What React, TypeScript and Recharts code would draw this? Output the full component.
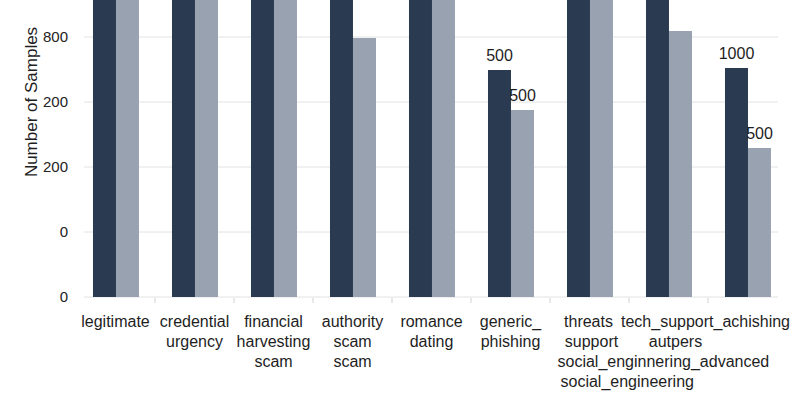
import React from "react";
import { BarChart, Bar, XAxis, YAxis, CartesianGrid, LabelList } from "recharts";

const categories = ["legitimate", "credential", "financial", "authority", "romance", "generic", "threats", "tech_support", "phishing"];
const darkValues = [1300, 1300, 1300, 1300, 1300, 873, 1300, 1300, 881];
const lightValues = [1300, 1300, 1300, 996, 1300, 719, 1300, 1023, 573];
const darkLabels = ["", "", "", "", "", "500", "", "", "1000"];
const lightLabels = ["", "", "", "", "", "500", "", "", "500"];
const tickLines: string[][] = [
  ["legitimate"],
  ["credential", "urgency"],
  ["financial", "harvesting", "scam"],
  ["authority", "scam", "scam"],
  ["romance", "dating"],
  ["generic_", "phishing"],
  ["threats", "support", "social_enginnering_advanced", "social_engineering"],
  ["tech_support_achishing", "autpers"],
  ["", ""],
];
const yTickValues = [0, 250, 500, 750, 1000];
const yTickLabels = ["0", "0", "200", "200", "800"];

const data = categories.map((c, i) => ({
  cat: c,
  dark: darkValues[i],
  light: lightValues[i],
  darkLabel: darkLabels[i],
  lightLabel: lightLabels[i],
}));

const CHART_W = 794;
const CHART_H = 500;
const PLOT_LEFT = 76;
const PLOT_RIGHT = 787;
const BAND = (PLOT_RIGHT - PLOT_LEFT) / categories.length;

// per-line layout tweaks (dx offset, anchor)
const lineLayout: Record<string, { dx: number; anchor: "start" | "middle" }> = {
  "6-0": { dx: -1, anchor: "middle" },
  "6-1": { dx: 2, anchor: "middle" },
  "6-2": { dx: -32, anchor: "start" },
  "6-3": { dx: -29, anchor: "start" },
  "7-0": { dx: 37, anchor: "middle" },
  "7-1": { dx: 7, anchor: "middle" },
};

function XTick(props: any) {
  const { x, y, index } = props;
  const axisY = y - 8;
  const lines = tickLines[index] || [];
  return (
    <g>
      {index > 0 && (
        <line x1={x - BAND / 2} x2={x - BAND / 2} y1={axisY + 1} y2={axisY + 6} stroke="#d0d0d0" strokeWidth={1} />
      )}
      {lines.map((t, li) => {
        const lay = lineLayout[`${index}-${li}`] || { dx: 0, anchor: "middle" };
        return (
          <text key={li} x={x + lay.dx} y={axisY + 30 + li * 20} textAnchor={lay.anchor} fontSize={16} fill="#1e1e1e">
            {t}
          </text>
        );
      })}
    </g>
  );
}

function YTitle() {
  return (
    <text x={31} y={202} transform="rotate(-90, 31, 202)" textAnchor="middle" dominantBaseline="central" fontSize={17} fill="#1e1e1e">
      Number of Samples
    </text>
  );
}

export default function App() {
  return (
    <div style={{ position: "absolute", top: -100, left: 0, width: CHART_W, height: CHART_H, fontFamily: "'Liberation Sans', Arial, sans-serif", background: "#fff" }}>
      <BarChart
        width={CHART_W}
        height={CHART_H}
        data={data}
        margin={{ top: 0, right: CHART_W - PLOT_RIGHT, bottom: 0, left: 0 }}
        barCategoryGap="21.5%"
        barGap={0}
      >
        <CartesianGrid vertical={false} stroke="#e2e2e2" x={84} width={694} />
        <XAxis
          dataKey="cat"
          axisLine={false}
          tickLine={false}
          tickSize={6}
          tickMargin={2}
          height={103}
          interval={0}
          tick={<XTick />}
        />
        <YAxis
          width={PLOT_LEFT}
          domain={[0, 1527]}
          ticks={yTickValues}
          allowDataOverflow
          axisLine={false}
          tickLine={false}
          tickFormatter={(v: number) => yTickLabels[yTickValues.indexOf(v)]}
          tick={{ fontSize: 15, fill: "#222" }}
          label={<YTitle />}
        />
        <Bar dataKey="dark" fill="#2a3a50" isAnimationActive={false}>
          <LabelList dataKey="darkLabel" position="top" offset={9} style={{ fontSize: 16, fill: "#1e1e1e" }} />
        </Bar>
        <Bar dataKey="light" fill="#98a2b0" isAnimationActive={false}>
          <LabelList dataKey="lightLabel" position="top" offset={9} style={{ fontSize: 16, fill: "#1e1e1e" }} />
        </Bar>
      </BarChart>
    </div>
  );
}
